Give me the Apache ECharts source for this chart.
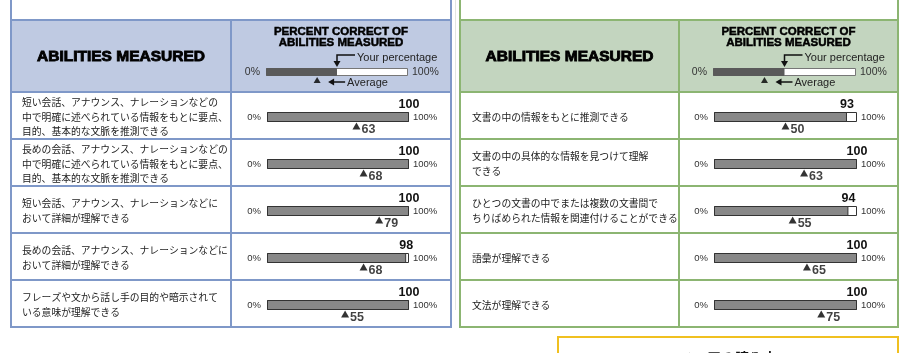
<!DOCTYPE html>
<html>
<head>
<meta charset="utf-8">
<style>
  html, body { margin: 0; padding: 0; background: #fff; }
  #chart { width: 913px; height: 353px; }
</style>
<script src="https://cdn.jsdelivr.net/npm/echarts@6/dist/echarts.min.js"></script>
</head>
<body>
<div id="chart"></div>
<script>
// Listening side
const listeningSkills = [
  '短い会話、アナウンス、ナレーションなどの\n中で明確に述べられている情報をもとに要点、\n目的、基本的な文脈を推測できる',
  '長めの会話、アナウンス、ナレーションなどの\n中で明確に述べられている情報をもとに要点、\n目的、基本的な文脈を推測できる',
  '短い会話、アナウンス、ナレーションなどに\nおいて詳細が理解できる',
  '長めの会話、アナウンス、ナレーションなどに\nおいて詳細が理解できる',
  'フレーズや文から話し手の目的や暗示されて\nいる意味が理解できる'
];
const listeningScores = [100, 100, 100, 98, 100];
const listeningAverages = [63, 68, 79, 68, 55];

// Reading side
const readingSkills = [
  '文書の中の情報をもとに推測できる',
  '文書の中の具体的な情報を見つけて理解\nできる',
  'ひとつの文書の中でまたは複数の文書間で\nちりばめられた情報を関連付けることができる',
  '語彙が理解できる',
  '文法が理解できる'
];
const readingScores = [93, 100, 94, 100, 100];
const readingAverages = [50, 63, 55, 65, 75];

// key in the header
const axisEndLabels = ['0%', '100%'];
const legendSample = 50;
const legendAverage = 36;

const headerTitle = 'ABILITIES MEASURED';
const headerKeyTitle = 'PERCENT CORRECT OF\nABILITIES MEASURED';
const footerTitle = 'スコアの読み方';

const panels = [
  { left: 11, right: 451, split: 231, barLeft: 267, barW: 142, textLeft: 22,
    border: '#7f98c8', head: '#bfcae2',
    skills: listeningSkills, scores: listeningScores, averages: listeningAverages },
  { left: 460, right: 898, split: 679, barLeft: 714, barW: 143, textLeft: 472,
    border: '#8cb572', head: '#c3d5bf',
    skills: readingSkills, scores: readingScores, averages: readingAverages }
];

const headTop = 20, headBottom = 92, rowH = 47;
const tableBottom = headBottom + rowH * 5;
const latin = 'Liberation Sans, Arial, sans-serif';
const cjk = 'Noto Sans CJK JP, sans-serif';

const grids = [], xAxes = [], yAxes = [], series = [], graphics = [];

function addBarGrid(top, height, left, width, value, average, isKey) {
  const g = grids.length;
  grids.push({ left: left, top: top, width: width, height: height });
  xAxes.push({ gridIndex: g, type: 'value', min: 0, max: 100, show: false });
  const lblSize = isKey ? 10.5 : 9.5;
  yAxes.push({
    gridIndex: g, type: 'category', data: [axisEndLabels[0]], position: 'left',
    axisLine: { show: false }, axisTick: { show: false }, splitLine: { show: false },
    axisLabel: { margin: 6, fontSize: lblSize, color: '#333', fontFamily: latin }
  });
  yAxes.push({
    gridIndex: g, type: 'category', data: [axisEndLabels[1]], position: 'right',
    axisLine: { show: false }, axisTick: { show: false }, splitLine: { show: false },
    axisLabel: { margin: 4, fontSize: lblSize, color: '#333', fontFamily: latin }
  });
  const yi = yAxes.length - 2;
  series.push({
    type: 'bar', xAxisIndex: g, yAxisIndex: yi, data: [100], barWidth: height,
    barGap: '-100%', silent: true, z: 2,
    itemStyle: { color: '#fff', borderColor: isKey ? '#777' : '#333', borderWidth: 1 }
  });
  series.push({
    type: 'bar', xAxisIndex: g, yAxisIndex: yi, data: [value], barWidth: height,
    barGap: '-100%', silent: true, z: 3,
    itemStyle: { color: isKey ? '#5a5a5a' : '#888', borderColor: isKey ? '#5a5a5a' : '#333', borderWidth: 1 },
    label: isKey ? { show: false } : {
      show: true, position: ['100%', -1], align: 'center', verticalAlign: 'bottom',
      formatter: '{c}', fontWeight: 'bold', fontSize: 12.5, color: '#111', fontFamily: latin
    }
  });
  series.push({
    type: 'scatter', xAxisIndex: g, yAxisIndex: yi, data: [[average, 0]],
    symbol: 'triangle', symbolSize: isKey ? [7, 6] : [8, 7],
    symbolOffset: [0, isKey ? 8 : 9], silent: true, z: 4,
    itemStyle: { color: '#000' },
    label: isKey ? { show: false } : {
      show: true, position: 'right', distance: 1, offset: [0, 4],
      formatter: p => p.value[0], fontWeight: 'bold', fontSize: 12.5, color: '#111', fontFamily: latin
    }
  });
}

panels.forEach(p => {
  const w = p.right - p.left;
  // header background
  graphics.push({ type: 'rect', z: 0, shape: { x: p.left, y: headTop, width: w, height: headBottom - headTop },
    style: { fill: p.head } });
  // outer border and grid lines
  graphics.push({ type: 'rect', z: 1, shape: { x: p.left, y: -4, width: w, height: tableBottom + 4 },
    style: { fill: null, stroke: p.border, lineWidth: 2 } });
  const hLines = [headTop, headBottom];
  for (let r = 1; r < 5; r++) hLines.push(headBottom + rowH * r);
  hLines.forEach(y => graphics.push({ type: 'line', z: 1,
    shape: { x1: p.left, y1: y, x2: p.right, y2: y }, style: { stroke: p.border, lineWidth: 2 } }));
  graphics.push({ type: 'line', z: 1, shape: { x1: p.split, y1: headTop, x2: p.split, y2: tableBottom },
    style: { stroke: p.border, lineWidth: 2 } });

  // header texts
  graphics.push({ type: 'text', z: 2, x: (p.left + p.split) / 2, y: 57,
    style: { text: headerTitle, align: 'center', verticalAlign: 'middle', fontFamily: latin,
      fontWeight: 'bold', fontSize: 15.5, fill: '#000', stroke: '#000', lineWidth: 0.9 } });
  graphics.push({ type: 'text', z: 2, x: (p.split + p.right) / 2, y: 37.5,
    style: { text: headerKeyTitle, align: 'center', verticalAlign: 'middle', fontFamily: latin,
      fontWeight: 'bold', fontSize: 11.5, lineHeight: 11.5, fill: '#000', stroke: '#000', lineWidth: 0.5 } });

  // key bar
  addBarGrid(68, 8, p.barLeft - 1, p.barW, legendSample, legendAverage, true);
  const xs = p.barLeft - 1 + legendSample / 100 * p.barW;
  const xa = p.barLeft - 1 + legendAverage / 100 * p.barW;
  graphics.push({ type: 'polyline', z: 2, shape: { points: [[xs + 18, 55], [xs, 55], [xs, 62]] },
    style: { stroke: '#111', lineWidth: 1.5, fill: null } });
  graphics.push({ type: 'polygon', z: 2, shape: { points: [[xs - 3.5, 61], [xs + 3.5, 61], [xs, 67]] },
    style: { fill: '#111' } });
  graphics.push({ type: 'text', z: 2, x: xs + 20, y: 58,
    style: { text: 'Your percentage', align: 'left', verticalAlign: 'middle', fontFamily: latin,
      fontSize: 11, fill: '#222' } });
  graphics.push({ type: 'line', z: 2, shape: { x1: xa + 28, y1: 82, x2: xa + 15, y2: 82 },
    style: { stroke: '#111', lineWidth: 1.5 } });
  graphics.push({ type: 'polygon', z: 2, shape: { points: [[xa + 11, 82], [xa + 17, 78.5], [xa + 17, 85.5]] },
    style: { fill: '#111' } });
  graphics.push({ type: 'text', z: 2, x: xa + 30, y: 83,
    style: { text: 'Average', align: 'left', verticalAlign: 'middle', fontFamily: latin,
      fontSize: 11, fill: '#222' } });

  // rows
  p.skills.forEach((s, r) => {
    const top = headBottom + rowH * r;
    graphics.push({ type: 'text', z: 2, x: p.textLeft, y: top + rowH / 2 + 1.5,
      style: { text: s, align: 'left', verticalAlign: 'middle', fontFamily: cjk,
        fontSize: 9.8, lineHeight: 14.5, fill: '#222' } });
    addBarGrid(top + 20, 10, p.barLeft, p.barW, p.scores[r], p.averages[r], false);
  });
});

// faint page edge between the panels
graphics.push({ type: 'line', z: 0, shape: { x1: 455.5, y1: 0, x2: 455.5, y2: 310 },
  style: { stroke: '#e2e6e2', lineWidth: 1 } });

// box below the reading panel
graphics.push({ type: 'rect', z: 1, shape: { x: 558, y: 337, width: 340, height: 40 },
  style: { fill: null, stroke: '#f0c020', lineWidth: 2 } });
graphics.push({ type: 'text', z: 2, x: 728, y: 358,
  style: { text: footerTitle, align: 'center', verticalAlign: 'middle', fontFamily: cjk,
    fontWeight: 'bold', fontSize: 14, fill: '#111' } });

const chart = echarts.init(document.getElementById('chart'));
chart.setOption({
  backgroundColor: '#fff',
  animation: false,
  grid: grids,
  xAxis: xAxes,
  yAxis: yAxes,
  series: series,
  graphic: { elements: graphics }
});
</script>
</body>
</html>
